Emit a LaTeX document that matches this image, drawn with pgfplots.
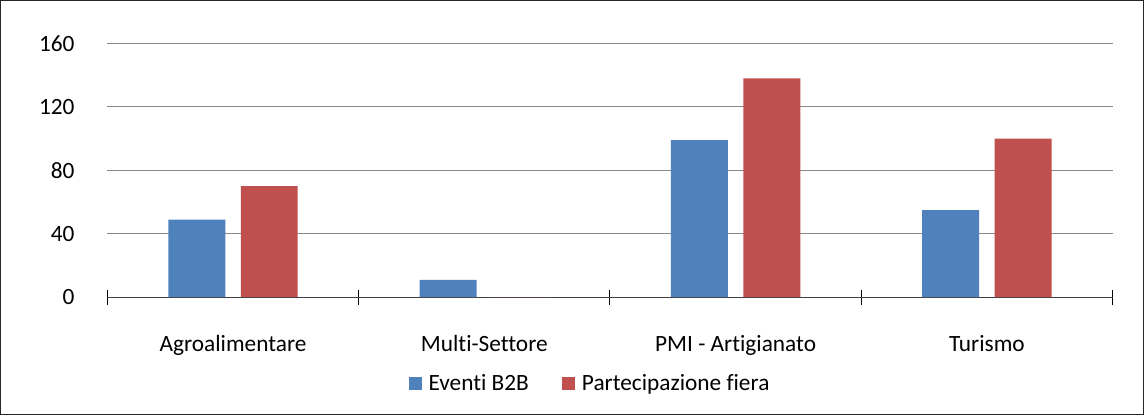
\documentclass[border=0pt]{standalone}
\usepackage{fontspec}
\setmainfont{Carlito}[Ligatures={NoCommon}]
\usepackage{pgfplots}
\pgfplotsset{compat=1.18}
\usetikzlibrary{calc}
\definecolor{bblue}{HTML}{4F81BD}
\definecolor{bred}{HTML}{C0504D}
\definecolor{gridgray}{HTML}{888888}

\begin{document}
\begin{tikzpicture}
\begin{axis}[
  scale only axis, width=754.5pt, height=190.5pt,
  ybar=11.6pt, bar width=42.75pt,
  xmin=0.5, xmax=4.5, ymin=0, ymax=160,
  ytick={0,40,...,160},
  xtick={0.5,1.5,2.5,3.5,4.5},
  xticklabels={Agroalimentare,Multi-Settore,PMI - Artigianato,Turismo},
  x tick label as interval,
  axis x line=bottom, axis y line=left,
  x axis line style={-, line width=1pt, draw=black!75},
  y axis line style={draw=none},
  ytick style={draw=none},
  xtick style={draw=black, line width=0.75pt},
  tick align=center, major tick length=11pt,
  ymajorgrids, grid style={gridgray, line width=0.75pt},
  font=\fontsize{17.5}{20}\selectfont,
  /pgf/number format/assume math mode=true,
  y tick label style={anchor=east, inner sep=0pt, xshift=-19pt},
  x tick label style={anchor=base, inner sep=0pt, yshift=-35pt},
  legend style={at={(0.4806,-0.3386)}, anchor=center, draw=none,
    legend columns=2, font=\fontsize{17.5}{20}\selectfont,
    /tikz/every odd column/.append style={column sep=3pt},
    /tikz/every even column/.append style={column sep=23pt}},
  legend image code/.code={\fill[#1] (0pt,-4.9pt) rectangle (9.8pt,4.9pt);},
]
\addplot[fill=bblue, draw=none] coordinates {(1,49) (2,11) (3,99) (4,55)};
\addplot[fill=bred, draw=none] coordinates {(1,70) (2,0) (3,138) (4,100)};
\legend{Eventi B2B, Partecipazione fiera}
\end{axis}
\draw[black!85, line width=0.75pt]
  ($(current axis.south west)+(-80.25pt,-87.75pt)$) rectangle
  ($(current axis.north east)+(23.25pt,32.25pt)$);
\end{tikzpicture}
\end{document}
